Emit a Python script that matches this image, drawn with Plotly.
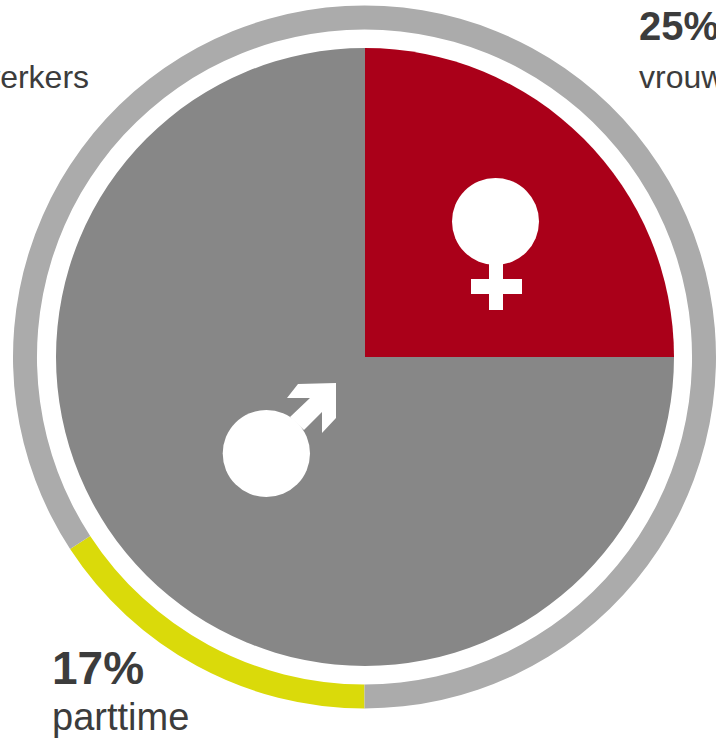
import plotly.graph_objects as go

W, H = 716, 738

# Data
gender_labels = ["vrouwen", "mannen"]
gender_values = [25, 75]
gender_colors = ["#AA0019", "#878787"]
ring_labels = ["parttime", "voltijd"]
ring_values = [15.8, 84.2]
ring_colors = ["#DADA0A", "#ABABAB"]


def X(p):
    return p / W


def Y(p):
    return 1 - p / H


def dom(x0, x1, y0, y1):
    return dict(x=[X(x0), min(X(x1), 1)], y=[Y(y1), Y(y0)])


def path(pts):
    return "M " + " L ".join(f"{X(a):.5f},{Y(b):.5f}" for a, b in pts) + " Z"


fig = go.Figure()
fig.add_trace(go.Pie(
    labels=ring_labels, values=ring_values, sort=False, direction="clockwise",
    rotation=180, hole=328 / 352, domain=dom(13, 716, 5, 709),
    marker=dict(colors=ring_colors, line=dict(width=0)),
    textinfo="none", hoverinfo="skip", showlegend=False,
))
fig.add_trace(go.Pie(
    labels=gender_labels, values=gender_values, sort=False, direction="clockwise",
    rotation=0, domain=dom(56, 674, 48, 666),
    marker=dict(colors=gender_colors, line=dict(width=0)),
    textinfo="none", hoverinfo="skip", showlegend=False,
))

white = dict(fillcolor="white", line=dict(width=0), xref="paper", yref="paper", layer="above")
shapes = [
    dict(type="circle", x0=X(452), x1=X(539), y0=Y(265), y1=Y(178), **white),
    dict(type="rect", x0=X(489), x1=X(503), y0=Y(310), y1=Y(258), **white),
    dict(type="rect", x0=X(471), x1=X(522), y0=Y(294), y1=Y(279), **white),
    dict(type="circle", x0=X(222.7), x1=X(310), y0=Y(497), y1=Y(410), **white),
    dict(type="path", path=path([(336, 383), (336, 418), (322, 433), (322, 412), (304, 430),
                                 (290, 417), (310, 398), (287, 398), (298, 384)]), **white),
]

FONT = "Liberation Sans, Arial, sans-serif"
TEXT = "#3C3C3C"


def note(text, x, y, size, anchor="left", bold=False):
    return dict(text=f"<b>{text}</b>" if bold else text, x=X(x), y=Y(y), xref="paper", yref="paper",
                xanchor=anchor, yanchor="middle", showarrow=False,
                font=dict(family=FONT, size=size, color=TEXT))


annotations = [
    note("25%", 637, 26, 40, bold=True),
    note("vrouwen", 637, 77, 32),
    note("medewerkers", 91, 77, 32, anchor="right"),
    note("17%", 50, 668, 46, bold=True),
    note("parttime", 50, 717, 38),
]

fig.update_layout(
    width=W, height=H, margin=dict(l=0, r=0, t=0, b=0),
    paper_bgcolor="white", plot_bgcolor="white", showlegend=False,
    shapes=shapes, annotations=annotations,
)
fig.write_html("out.html", config={"displayModeBar": False},
               post_script="document.body.style.margin='0';document.body.style.overflow='hidden';")
